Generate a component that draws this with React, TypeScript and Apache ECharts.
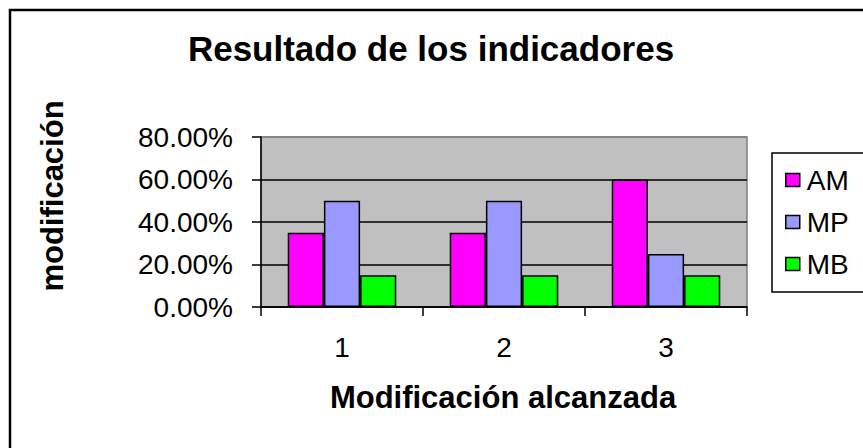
import React, { useEffect, useRef } from "react";
import * as echarts from "echarts";

const categories = ["1", "2", "3"];
const seriesNames = ["AM", "MP", "MB"];
const amValues = [35, 35, 60];
const mpValues = [50, 50, 25];
const mbValues = [15, 15, 15];
const seriesColors = ["#FF00FF", "#9999FF", "#00FF00"];
const titleText = "Resultado de los indicadores";
const xAxisTitle = "Modificación alcanzada";
const yAxisTitle = "modificación";

export default function App() {
  const ref = useRef<HTMLDivElement>(null);
  useEffect(() => {
    document.body.style.margin = "0";
    const chart = echarts.init(ref.current!, null, { renderer: "svg" });
    const font = "Arial, 'Liberation Sans', sans-serif";
    const values = [amValues, mpValues, mbValues];
    chart.setOption({
      animation: false,
      backgroundColor: "#ffffff",
      textStyle: { fontFamily: font },
      grid: {
        left: 261,
        top: 137,
        right: 116,
        bottom: 141,
        show: true,
        backgroundColor: "#C0C0C0",
        borderColor: "#808080",
        borderWidth: 1.5,
        containLabel: false,
      },
      legend: {
        orient: "vertical",
        left: 785,
        top: 166,
        itemWidth: 14,
        itemHeight: 13,
        itemGap: 14,
        icon: "rect",
        padding: 0,
        z: 10,
        textStyle: { fontSize: 28, color: "#000", fontFamily: font, padding: [0, 0, 0, 2] },
        itemStyle: { borderColor: "#000", borderWidth: 1.5 },
        data: seriesNames,
      },
      xAxis: {
        type: "category",
        data: categories,
        axisLine: { show: true, lineStyle: { color: "#000", width: 1.5 } },
        axisTick: { show: true, length: 9, inside: false, lineStyle: { color: "#000", width: 1.5 } },
        axisLabel: { fontSize: 28, color: "#000", margin: 26, fontFamily: font },
        splitLine: { show: false },
      },
      yAxis: {
        type: "value",
        min: 0,
        max: 80,
        interval: 20,
        axisLine: { show: true, lineStyle: { color: "#000", width: 1.5 } },
        axisTick: { show: true, length: 9, inside: false, lineStyle: { color: "#000", width: 1.5 } },
        axisLabel: {
          fontSize: 28,
          color: "#000",
          margin: 28,
          fontFamily: font,
          formatter: (v: number) => v.toFixed(2) + "%",
        },
        splitLine: {
          show: true,
          lineStyle: { color: ["#000", "#000", "#000", "#000", "#808080"], width: 1.5 },
        },
      },
      series: seriesNames.map((name, i) => ({
        name,
        type: "bar",
        data: values[i],
        barGap: "0%",
        barCategoryGap: "33%",
        itemStyle: { color: seriesColors[i], borderColor: "#000", borderWidth: 1.5 },
      })),
      graphic: [
        {
          type: "rect",
          z: 0,
          shape: { x: 10, y: 10, width: 1000, height: 1000 },
          style: { fill: "none", stroke: "#000", lineWidth: 2.5 },
        },
        {
          type: "rect",
          z: 1,
          shape: { x: 772, y: 153, width: 200, height: 139 },
          style: { fill: "#fff", stroke: "#000", lineWidth: 1.5 },
        },
        {
          type: "text",
          x: 431,
          y: 48,
          style: {
            text: titleText,
            fontSize: 35,
            fontWeight: "bold",
            fontFamily: font,
            fill: "#000",
            align: "center",
            verticalAlign: "middle",
          },
        },
        {
          type: "text",
          x: 503,
          y: 397,
          style: {
            text: xAxisTitle,
            fontSize: 31,
            fontWeight: "bold",
            fontFamily: font,
            fill: "#000",
            align: "center",
            verticalAlign: "middle",
          },
        },
        {
          type: "text",
          x: 52,
          y: 196,
          rotation: Math.PI / 2,
          style: {
            text: yAxisTitle,
            fontSize: 31,
            fontWeight: "bold",
            fontFamily: font,
            fill: "#000",
            align: "center",
            verticalAlign: "middle",
          },
        },
      ],
    });
    return () => chart.dispose();
  }, []);
  return <div ref={ref} style={{ width: 863, height: 448 }} />;
}
